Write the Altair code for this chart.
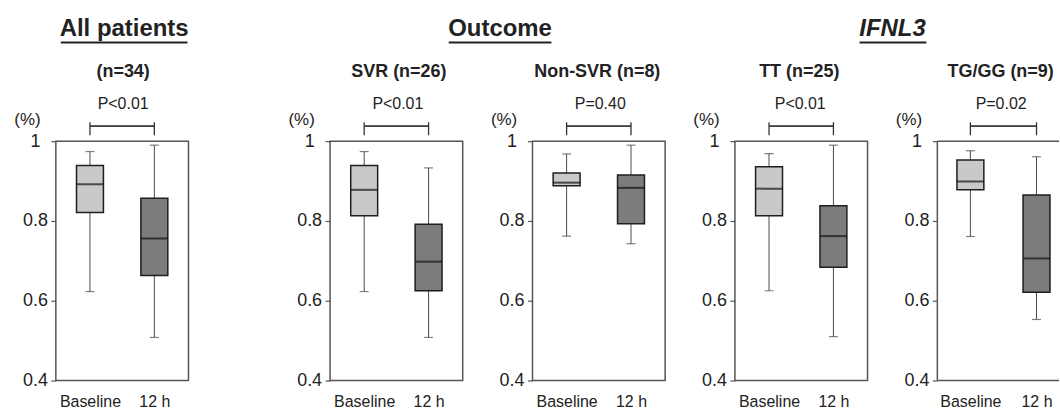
import altair as alt
import pandas as pd

# ---------------- data ----------------
times = ["Baseline", "12 h"]
subtitles = ["(n=34)", "SVR (n=26)", "Non-SVR (n=8)", "TT (n=25)", "TG/GG (n=9)"]
p_values = ["P<0.01", "P<0.01", "P=0.40", "P<0.01", "P=0.02"]
headers = ["All patients", "Outcome", "IFNL3"]

# box statistics per panel (All, SVR, Non-SVR, TT, TG/GG)
base_lower = [0.623, 0.623, 0.762, 0.625, 0.761]
base_q1 = [0.821, 0.813, 0.888, 0.813, 0.878]
base_median = [0.892, 0.878, 0.896, 0.881, 0.899]
base_q3 = [0.939, 0.939, 0.920, 0.936, 0.953]
base_upper = [0.974, 0.974, 0.968, 0.969, 0.976]

post_lower = [0.508, 0.508, 0.743, 0.510, 0.553]
post_q1 = [0.663, 0.625, 0.793, 0.684, 0.621]
post_median = [0.756, 0.698, 0.883, 0.762, 0.706]
post_q3 = [0.857, 0.792, 0.915, 0.838, 0.865]
post_upper = [0.990, 0.933, 0.990, 0.990, 0.961]

y_ticks = [0.4, 0.6, 0.8, 1.0]

# ---------------- style / layout ----------------
FONT = "Liberation Sans"
TXT = "#222222"
LIGHT = "#c9c9c9"
DARK = "#7c7c7c"
FRAME = "#555555"
H = 240
widths = [133, 133, 133, 133, 122]
pt_padding = [0.53, 0.53, 0.53, 0.53, 0.42]
pt_align = [0.5, 0.5, 0.5, 0.5, 0.595]
sub_x = [67.5, 69, 65, 64.5, 63.5]
p_x = [67.5, 68, 68, 65.5, 64]
# header placement: (panel index, header text, center x, underline x1, x2, italic)
header_spec = {0: (headers[0], 68.5, 5, 132, "normal"),
               2: (headers[1], -32.5, -84, 19, "normal"),
               4: (headers[2], -45, -78, -11, "italic")}


def panel(i):
    df = pd.DataFrame({
        "time": times,
        "lower": [base_lower[i], post_lower[i]],
        "q1": [base_q1[i], post_q1[i]],
        "median": [base_median[i], post_median[i]],
        "q3": [base_q3[i], post_q3[i]],
        "upper": [base_upper[i], post_upper[i]],
    })
    W = widths[i]
    xenc = alt.X(
        "time:N", sort=times, title=None,
        scale=alt.Scale(type="point", padding=pt_padding[i], align=pt_align[i]),
        axis=alt.Axis(domain=False, ticks=False, labelAngle=0, labelFont=FONT,
                      labelFontSize=16, labelColor=TXT, labelPadding=13, grid=False),
    )
    yenc = alt.Y(
        "lower:Q", title=None,
        scale=alt.Scale(domain=[0.4, 1.0], nice=False, zero=False),
        axis=alt.Axis(values=y_ticks, format="~g", domain=False, grid=False,
                      tickSize=5, tickColor=FRAME, tickWidth=1.2,
                      labelFont=FONT, labelFontSize=18, labelColor=TXT,
                      labelAlign="center", labelPadding=16),
    )
    base = alt.Chart(df)
    whisker = base.mark_rule(color="#4a4a4a", strokeWidth=1).encode(
        x=xenc, y=yenc, y2="upper:Q")
    cap_lo = base.mark_tick(color="#4a4a4a", size=9, thickness=1.2).encode(
        x=xenc, y="lower:Q")
    cap_hi = base.mark_tick(color="#4a4a4a", size=9, thickness=1.2).encode(
        x=xenc, y="upper:Q")
    box = base.mark_bar(size=27, stroke="#1e1e1e", strokeWidth=1.5).encode(
        x=xenc, y="q1:Q", y2="q3:Q",
        color=alt.Color("time:N", scale=alt.Scale(domain=times, range=[LIGHT, DARK]),
                        legend=None))
    med = base.mark_tick(color="#111111", size=27, thickness=2).encode(
        x=xenc, y="median:Q")

    # significance bracket
    br_h = base.mark_rule(color="#333333", strokeWidth=1.3).encode(
        x=alt.datum(times[0]), x2=alt.datum(times[1]), y=alt.value(-15))
    br_v = base.mark_rule(color="#333333", strokeWidth=1.3).encode(
        x=xenc, y=alt.value(-19), y2=alt.value(-6))

    one = pd.DataFrame({"t": [0]})
    ptext = alt.Chart(one).mark_text(font=FONT, fontSize=16, color=TXT,
                                     align="center", baseline="alphabetic").encode(
        x=alt.value(p_x[i]), y=alt.value(-32), text=alt.value(p_values[i]))
    stext = alt.Chart(one).mark_text(font=FONT, fontSize=18, fontWeight="bold",
                                     color=TXT, align="center",
                                     baseline="alphabetic").encode(
        x=alt.value(sub_x[i]), y=alt.value(-64), text=alt.value(subtitles[i]))
    pct = alt.Chart(one).mark_text(font=FONT, fontSize=17, color=TXT,
                                   align="center", baseline="alphabetic").encode(
        x=alt.value(-28.5), y=alt.value(-16), text=alt.value("(%)"))

    layers = [whisker, cap_lo, cap_hi, box, med, br_h, br_v, ptext, stext, pct]

    if i in header_spec:
        txt, hx, u1, u2, style = header_spec[i]
        htext = alt.Chart(one).mark_text(font=FONT, fontSize=24, fontWeight="bold",
                                         fontStyle=style, color=TXT, align="center",
                                         baseline="alphabetic").encode(
            x=alt.value(hx), y=alt.value(-105), text=alt.value(txt))
        uline = alt.Chart(one).mark_rule(color=TXT, strokeWidth=2).encode(
            x=alt.value(u1), x2=alt.value(u2), y=alt.value(-99))
        layers += [htext, uline]

    props = dict(width=W, height=H)
    if i == 4:
        # frame running off the right edge: top, bottom, left sides only
        ftop = alt.Chart(one).mark_rule(color=FRAME, strokeWidth=1.5).encode(
            x=alt.value(0), x2=alt.value(W), y=alt.value(0))
        fbot = alt.Chart(one).mark_rule(color=FRAME, strokeWidth=1.5).encode(
            x=alt.value(0), x2=alt.value(W), y=alt.value(H))
        fleft = alt.Chart(one).mark_rule(color=FRAME, strokeWidth=1.5).encode(
            x=alt.value(0), y=alt.value(0), y2=alt.value(H))
        layers = [ftop, fbot, fleft] + layers
        props["view"] = alt.ViewBackground(strokeOpacity=0)
    return alt.layer(*layers).properties(**props)


spacer = alt.Chart(pd.DataFrame({"a": [0]})).mark_point(opacity=0).properties(
    width=2, height=H, view=alt.ViewBackground(strokeOpacity=0))

panels = [panel(i) for i in range(5)]
chart = alt.hconcat(panels[0], spacer, panels[1], panels[2], panels[3], panels[4],
                    spacing=70, bounds="flush").properties(
    padding={"left": 13, "top": 16, "right": 0, "bottom": 0},
    background="white",
).configure_view(stroke=FRAME, strokeWidth=1.5)

chart.save("out.html", embed_options={"renderer": "svg", "actions": False})
